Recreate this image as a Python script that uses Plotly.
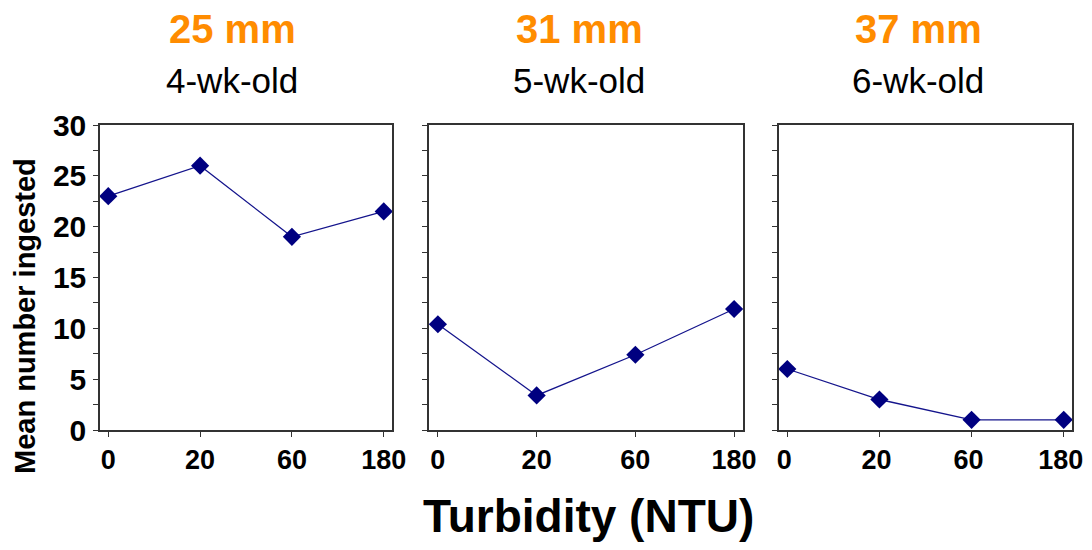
import plotly.graph_objects as go

turbidity = ["0", "20", "60", "180"]
sizes = ["25 mm", "31 mm", "37 mm"]
ages = ["4-wk-old", "5-wk-old", "6-wk-old"]
mean_4wk = [23.0, 26.0, 19.0, 21.5]
mean_5wk = [10.4, 3.4, 7.4, 11.9]
mean_6wk = [6.0, 3.0, 1.0, 1.0]
series = [mean_4wk, mean_5wk, mean_6wk]
y_ticks = [0, 5, 10, 15, 20, 25, 30]

OFF = 8  # page body margin
W, H = 1092 - 2 * OFF, 550 - 2 * OFF


def fx(px):
    return (px - OFF) / W


def fy(py):
    return 1 - (py - OFF) / H


x_domains = [(100, 392), (429, 743), (779, 1072)]
title_centers = [232, 579, 918]
label_shift = [0, 0, -3]
y_top, y_bot = 125, 430

fig = go.Figure()
FONT = "Liberation Sans, Arial, sans-serif"
NAVY = "#000080"

for i, vals in enumerate(series):
    xa = "x" if i == 0 else f"x{i+1}"
    ya = "y" if i == 0 else f"y{i+1}"
    fig.add_trace(go.Scatter(
        x=turbidity, y=vals, xaxis=xa, yaxis=ya, mode="lines+markers",
        line=dict(color="#14148c", width=1.3),
        marker=dict(symbol="diamond", size=14, color=NAVY),
        cliponaxis=False, showlegend=False))
    d0, d1 = x_domains[i]
    xkey = "xaxis" if i == 0 else f"xaxis{i+1}"
    ykey = "yaxis" if i == 0 else f"yaxis{i+1}"
    fig.update_layout(**{
        xkey: dict(domain=[fx(d0), fx(d1)], anchor=ya, type="category",
                   range=[-0.09, 3.09], showgrid=False, zeroline=False, automargin=False,
                   showline=True, mirror=True, linecolor="#333", linewidth=1.5,
                   ticks="outside", ticklen=5, tickcolor="#333", tickwidth=1,
                   ticklabelshift=label_shift[i],
                   tickfont=dict(family=FONT, size=27, color="black", weight="bold"),
                   fixedrange=True),
        ykey: dict(domain=[fy(y_bot), fy(y_top)], anchor=xa, automargin=False,
                   range=[0, 30], tickvals=y_ticks, showgrid=False, zeroline=False,
                   showline=True, mirror=True, linecolor="#333", linewidth=1.5,
                   ticks="outside", ticklen=5, tickcolor="#333", tickwidth=1,
                   minor=dict(dtick=2.5, ticks="outside", ticklen=5, tickcolor="#333", showgrid=False),
                   showticklabels=(i == 0), ticklabelstandoff=1,
                   tickfont=dict(family=FONT, size=30, color="black", weight="bold"),
                   fixedrange=True),
    })
    cx = fx(title_centers[i])
    fig.add_annotation(text=sizes[i], x=cx, y=fy(29), xref="paper", yref="paper",
                       xanchor="center", yanchor="middle", showarrow=False,
                       font=dict(family=FONT, size=40, color="#FF8C00", weight="bold"))
    fig.add_annotation(text=ages[i], x=cx, y=fy(80), xref="paper", yref="paper",
                       xanchor="center", yanchor="middle", showarrow=False,
                       font=dict(family=FONT, size=35, color="black"))

fig.add_annotation(text="Mean number ingested", x=fx(25), y=fy(316), xref="paper", yref="paper",
                   xanchor="center", yanchor="middle", showarrow=False, textangle=-90,
                   font=dict(family=FONT, size=29, color="black", weight="bold"))
fig.add_annotation(text="Turbidity (NTU)", x=fx(588), y=fy(516), xref="paper", yref="paper",
                   xanchor="center", yanchor="middle", showarrow=False,
                   font=dict(family=FONT, size=46, color="black", weight="bold"))

fig.update_layout(template="none", width=W, height=H,
                  margin=dict(l=0, r=0, t=0, b=0, pad=0, autoexpand=False),
                  paper_bgcolor="white", plot_bgcolor="white")
fig.write_html("out.html")
